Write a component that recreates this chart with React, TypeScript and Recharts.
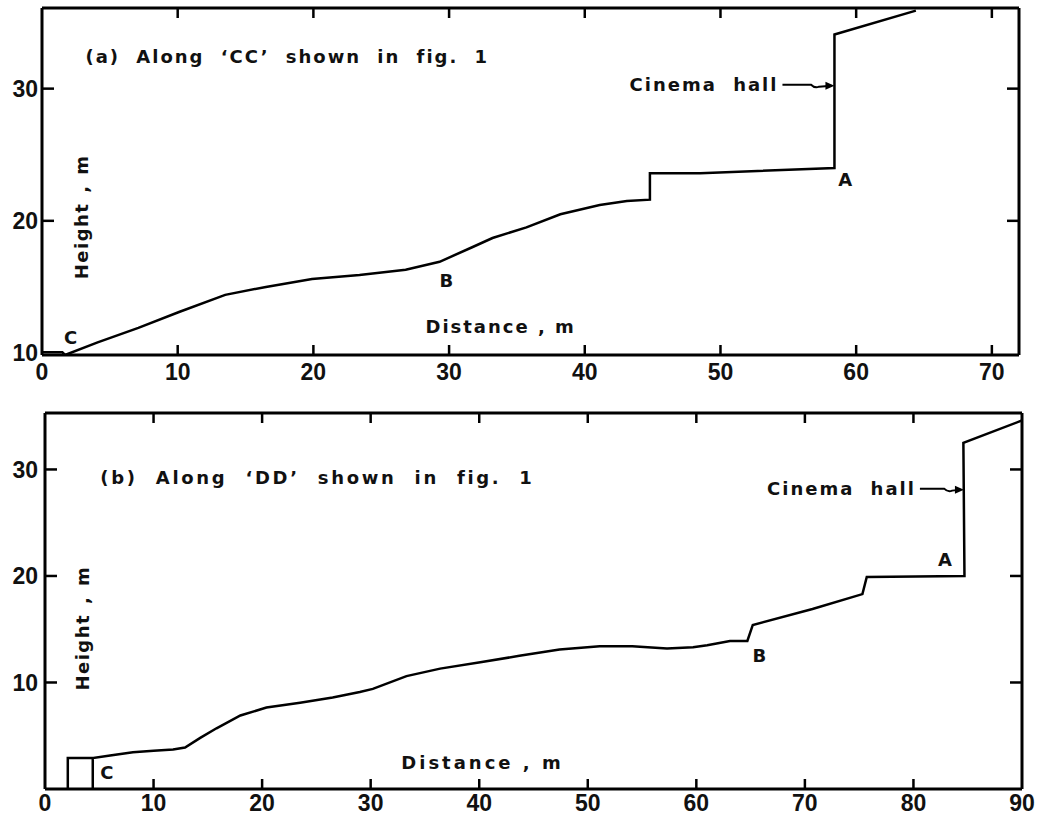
import React from 'react';
import { LineChart, Line, XAxis, YAxis, ReferenceDot } from 'recharts';

// (a) section along CC
const distanceCC = [0, 1.5, 1.7, 4.1, 7.1, 10.1, 13.5, 16.5, 19.9, 23.4, 26.8, 29.3, 31.7, 33.2, 35.7, 38.2, 41.1, 43.1, 44.8, 44.8, 48.5, 58.4, 58.4, 64.4];
const heightCC = [10.05, 10.05, 9.85, 10.8, 11.9, 13.1, 14.4, 15.0, 15.6, 15.9, 16.3, 16.9, 18.0, 18.7, 19.5, 20.5, 21.2, 21.5, 21.6, 23.6, 23.6, 24.0, 34.1, 35.9];

// (b) section along DD
const distanceDD = [2.1, 2.1, 4.4, 4.4, 4.4, 6.0, 8.1, 10.0, 11.8, 12.9, 14.3, 15.8, 18.0, 20.4, 23.5, 26.5, 29.0, 30.2, 33.3, 36.4, 40.1, 43.7, 47.4, 51.1, 54.1, 57.3, 59.7, 61.0, 63.1, 64.7, 65.2, 70.7, 75.3, 75.7, 84.7, 84.6, 90];
const heightDD = [0, 2.9, 2.9, 0, 2.9, 3.15, 3.45, 3.6, 3.7, 3.9, 4.8, 5.7, 6.9, 7.65, 8.1, 8.6, 9.1, 9.4, 10.6, 11.3, 11.9, 12.5, 13.1, 13.4, 13.4, 13.2, 13.3, 13.5, 13.9, 13.9, 15.4, 16.9, 18.3, 19.9, 20.0, 32.5, 34.6];

const xTicksCC = [0, 10, 20, 30, 40, 50, 60, 70];
const xTicksDD = [0, 10, 20, 30, 40, 50, 60, 70, 80, 90];
const yTicksCC = [10, 20, 30];
const yTicksDD = [10, 20, 30];

const rowsCC = distanceCC.map((d, i) => ({ d, h: heightCC[i] }));
const rowsDD = distanceDD.map((d, i) => ({ d, h: heightDD[i] }));

const FONT = '"DejaVu Sans", sans-serif';
const txt = { fontFamily: FONT, fontSize: 18, fontWeight: 700, fill: '#111' } as const;
const tickTxt = { fontFamily: '"Liberation Sans", Arial, sans-serif', fontSize: 23, fontWeight: 700, fill: '#111' } as const;
const frame = { stroke: '#000', strokeWidth: 3 };

const bottomTick = (withLine: number[], dy: number) => (p: any) => (
  <g>
    {withLine.includes(p.payload.value) && (
      <line x1={p.x} x2={p.x} y1={p.y} y2={p.y - 10} stroke="#000" strokeWidth={2.5} />
    )}
    <text x={p.x} y={p.y + dy} textAnchor="middle" style={tickTxt}>{p.payload.value}</text>
  </g>
);
const leftTick = (withLine: number[], dx: number) => (p: any) => (
  <g>
    {withLine.includes(p.payload.value) && (
      <line x1={p.x} x2={p.x + 12} y1={p.y} y2={p.y} stroke="#000" strokeWidth={2.5} />
    )}
    <text x={p.x - dx} y={p.y} dy="0.36em" textAnchor="end" style={tickTxt}>{p.payload.value}</text>
  </g>
);
const topTick = (withLine: number[]) => (p: any) =>
  withLine.includes(p.payload.value) ? (
    <line x1={p.x} x2={p.x} y1={p.y} y2={p.y + 10} stroke="#000" strokeWidth={2.5} />
  ) : <g />;
const rightTick = (withLine: number[]) => (p: any) =>
  withLine.includes(p.payload.value) ? (
    <line x1={p.x} x2={p.x - 12} y1={p.y} y2={p.y} stroke="#000" strokeWidth={2.5} />
  ) : <g />;

const label = (text: string, anchor: 'start' | 'middle' | 'end' = 'middle', extra: any = {}) => (p: any) => (
  <text x={p.cx} y={p.cy} dy="0.36em" textAnchor={anchor} style={{ ...txt, ...extra }}>{text}</text>
);
const vLabel = (text: string) => (p: any) => (
  <text x={p.cx} y={p.cy} dy="0.36em" textAnchor="middle" transform={`rotate(-90 ${p.cx} ${p.cy})`} style={{ ...txt, letterSpacing: 1.5, wordSpacing: 2 }}>{text}</text>
);
const cinemaHall = (gap: number) => (p: any) => (
  <g>
    <text x={p.cx - gap - 4} y={p.cy} dy="0.36em" textAnchor="end" style={{ ...txt, letterSpacing: 2, wordSpacing: 8 }}>Cinema hall</text>
    <path d={`M${p.cx - gap},${p.cy} L${p.cx - gap * 0.45},${p.cy} q4,4 8,2 L${p.cx - 3},${p.cy + 1}`} stroke="#000" strokeWidth={2} fill="none" />
    <path d={`M${p.cx},${p.cy + 1} l-9,-4 l0,8 z`} fill="#000" />
  </g>
);

export default function App() {
  return (
    <div style={{ position: 'absolute', left: 0, top: 0, width: 1037, height: 821, background: '#fff' }}>
      <div style={{ position: 'absolute', left: 0, top: 0 }}>
        <LineChart width={1037} height={385} data={rowsCC} margin={{ top: 0, right: 0, bottom: 0, left: 0 }}>
          <XAxis dataKey="d" type="number" domain={[0, 72]} allowDataOverflow ticks={xTicksCC} interval={0}
            height={30} tickSize={0} tickMargin={0} tickLine={false} axisLine={frame} tick={bottomTick([10, 20, 30, 40, 50, 60, 70], 25)} />
          <XAxis xAxisId="top" orientation="top" dataKey="d" type="number" domain={[0, 72]} allowDataOverflow ticks={xTicksCC} interval={0}
            height={8} tickSize={0} tickMargin={0} tickLine={false} axisLine={frame} tick={topTick([10, 20, 30, 40, 50, 60, 70])} />
          <YAxis type="number" domain={[9.85, 36.1]} allowDataOverflow ticks={yTicksCC} interval={0}
            width={42} tickSize={0} tickMargin={0} tickLine={false} axisLine={frame} tick={leftTick([20, 30], 4)} />
          <YAxis yAxisId="right" orientation="right" type="number" domain={[9.85, 36.1]} allowDataOverflow ticks={yTicksCC} interval={0}
            width={18} tickSize={0} tickMargin={0} tickLine={false} axisLine={frame} tick={rightTick([20, 30])} />
          <Line dataKey="h" type="linear" stroke="#000" strokeWidth={2.5} dot={false} isAnimationActive={false} />
          <ReferenceDot x={3.2} y={32.4} r={0} shape={label('(a)  Along  ‘CC’  shown  in  fig. 1', 'start', { letterSpacing: 2, wordSpacing: 8 })} />
          <ReferenceDot x={58.4} y={30.3} r={0} shape={cinemaHall(52)} />
          <ReferenceDot x={59.2} y={23.1} r={0} shape={label('A')} />
          <ReferenceDot x={29.8} y={15.5} r={0} shape={label('B')} />
          <ReferenceDot x={2.1} y={11.2} r={0} shape={label('C')} />
          <ReferenceDot x={33.8} y={12.0} r={0} shape={label('Distance , m', 'middle', { letterSpacing: 2 })} />
          <ReferenceDot x={2.9} y={20.3} r={0} shape={vLabel('Height , m')} />
        </LineChart>
      </div>
      <div style={{ position: 'absolute', left: 0, top: 385 }}>
        <LineChart width={1037} height={436} data={rowsDD} margin={{ top: 0, right: 0, bottom: 0, left: 0 }}>
          <XAxis dataKey="d" type="number" domain={[0, 90]} allowDataOverflow ticks={xTicksDD} interval={0}
            height={32} tickSize={0} tickMargin={0} tickLine={false} axisLine={frame} tick={bottomTick([10, 20, 30, 40, 50, 60, 70, 80], 22)} />
          <XAxis xAxisId="top" orientation="top" dataKey="d" type="number" domain={[0, 90]} allowDataOverflow ticks={xTicksDD} interval={0}
            height={28} tickSize={0} tickMargin={0} tickLine={false} axisLine={frame} tick={topTick([10, 20, 30, 40, 50, 60, 70, 80])} />
          <YAxis type="number" domain={[0, 35.3]} allowDataOverflow ticks={yTicksDD} interval={0}
            width={45} tickSize={0} tickMargin={0} tickLine={false} axisLine={frame} tick={leftTick([10, 20, 30], 7)} />
          <YAxis yAxisId="right" orientation="right" type="number" domain={[0, 35.3]} allowDataOverflow ticks={yTicksDD} interval={0}
            width={15} tickSize={0} tickMargin={0} tickLine={false} axisLine={frame} tick={rightTick([10, 20, 30])} />
          <Line dataKey="h" type="linear" stroke="#000" strokeWidth={2.5} dot={false} isAnimationActive={false} />
          <ReferenceDot x={5.1} y={29.2} r={0} shape={label('(b)  Along  ‘DD’  shown  in  fig. 1', 'start', { letterSpacing: 2.7, wordSpacing: 9 })} />
          <ReferenceDot x={84.65} y={28.2} r={0} shape={cinemaHall(44)} />
          <ReferenceDot x={82.9} y={21.5} r={0} shape={label('A')} />
          <ReferenceDot x={65.8} y={12.5} r={0} shape={label('B')} />
          <ReferenceDot x={5.7} y={1.55} r={0} shape={label('C')} />
          <ReferenceDot x={40.3} y={2.5} r={0} shape={label('Distance , m', 'middle', { letterSpacing: 3 })} />
          <ReferenceDot x={3.5} y={15.1} r={0} shape={vLabel('Height , m')} />
        </LineChart>
      </div>
    </div>
  );
}
